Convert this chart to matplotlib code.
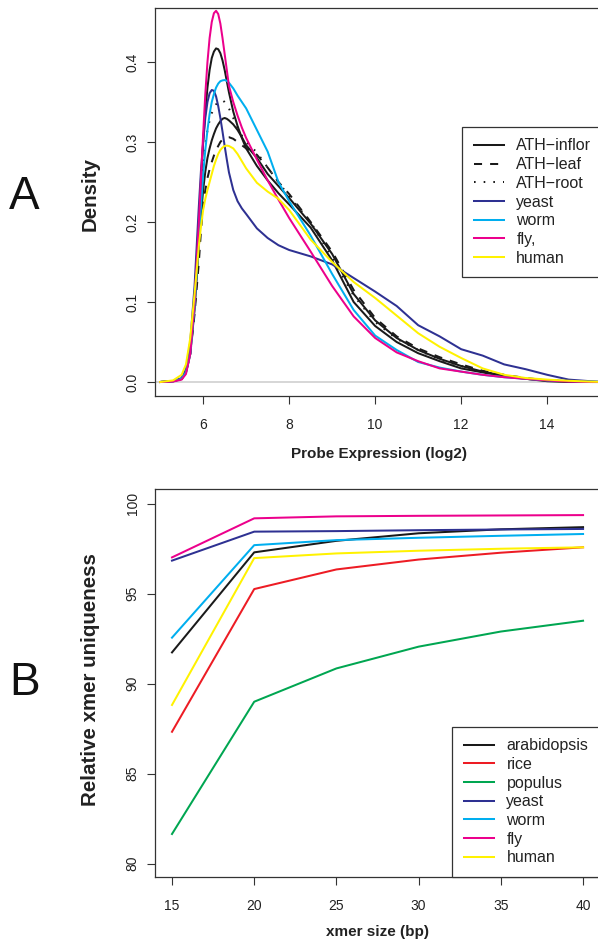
import matplotlib
matplotlib.use('Agg')
import matplotlib.pyplot as plt

# ---------------- Panel A data (density curves) ----------------
expr_x = [5.0, 5.3, 5.5, 5.6, 5.7, 5.8, 5.9, 5.95, 6.0, 6.05, 6.1, 6.15, 6.2, 6.25, 6.3, 6.35,
          6.4, 6.45, 6.5, 6.55, 6.6, 6.7, 6.8, 6.9, 7.0,
          7.25, 7.5, 7.75, 8.0, 8.5, 9.0, 9.5, 10.0, 10.5, 11.0, 11.5, 12.0, 12.5, 13.0,
          13.5, 14.0, 14.5, 15.0, 15.35]
dens_inflor = [0, 0.001, 0.004, 0.013, 0.04, 0.105, 0.20, 0.25, 0.30, 0.338, 0.368, 0.39, 0.405,
               0.413, 0.417, 0.416, 0.411, 0.402, 0.39, 0.376, 0.362, 0.338, 0.32, 0.305, 0.292,
               0.27, 0.252, 0.236, 0.222, 0.193, 0.152, 0.10, 0.07, 0.05,
               0.036, 0.026, 0.017, 0.012, 0.007, 0.004, 0.001, 0, 0, 0]
dens_inflor2 = [0, 0.001, 0.004, 0.012, 0.035, 0.09, 0.17, 0.21, 0.24, 0.263, 0.28, 0.292, 0.302,
                0.31, 0.317, 0.322, 0.326, 0.329, 0.33, 0.329, 0.327, 0.322, 0.315, 0.306, 0.296,
                0.28, 0.26, 0.245, 0.23, 0.198, 0.16, 0.11, 0.077, 0.055,
                0.04, 0.029, 0.02, 0.013, 0.008, 0.004, 0.002, 0.001, 0, 0]
dens_leaf = [0, 0.001, 0.004, 0.012, 0.035, 0.085, 0.15, 0.19, 0.22, 0.24, 0.255, 0.266, 0.275,
             0.283, 0.29, 0.295, 0.30, 0.303, 0.305, 0.306, 0.306, 0.304, 0.30, 0.296, 0.292,
             0.284, 0.268, 0.25, 0.235, 0.20, 0.163, 0.115, 0.08, 0.057,
             0.042, 0.031, 0.022, 0.014, 0.009, 0.005, 0.002, 0.001, 0, 0]
dens_root = [0, 0.001, 0.004, 0.013, 0.04, 0.10, 0.19, 0.235, 0.27, 0.296, 0.315, 0.327, 0.336,
             0.342, 0.347, 0.35, 0.352, 0.352, 0.35, 0.347, 0.342, 0.33, 0.318, 0.308, 0.30,
             0.287, 0.268, 0.25, 0.232, 0.20, 0.155, 0.108, 0.075, 0.054,
             0.04, 0.028, 0.02, 0.013, 0.008, 0.004, 0.002, 0.001, 0, 0]
dens_yeast = [0, 0.001, 0.005, 0.016, 0.05, 0.12, 0.22, 0.265, 0.30, 0.33, 0.35, 0.361, 0.365,
              0.364, 0.357, 0.345, 0.33, 0.313, 0.295, 0.278, 0.262, 0.24, 0.226, 0.217, 0.21,
              0.192, 0.18, 0.171, 0.165, 0.157, 0.147, 0.13, 0.113, 0.095,
              0.071, 0.057, 0.041, 0.033, 0.022, 0.016, 0.009, 0.003, 0.001, 0]
dens_worm = [0, 0.0008, 0.004, 0.012, 0.035, 0.095, 0.18, 0.22, 0.26, 0.29, 0.315, 0.335, 0.35,
             0.36, 0.368, 0.373, 0.376, 0.377, 0.3775, 0.3765, 0.374, 0.367, 0.358, 0.35, 0.342,
             0.315, 0.288, 0.25, 0.226, 0.183, 0.135, 0.09, 0.058, 0.04,
             0.025, 0.018, 0.013, 0.009, 0.006, 0.004, 0.002, 0.001, 0.0003, 0]
dens_fly = [0, 0.0005, 0.003, 0.01, 0.035, 0.10, 0.20, 0.255, 0.31, 0.36, 0.40, 0.43, 0.45,
            0.461, 0.464, 0.46, 0.448, 0.43, 0.41, 0.39, 0.37, 0.35, 0.333, 0.318, 0.305,
            0.278, 0.252, 0.228, 0.205, 0.163, 0.12, 0.082, 0.055, 0.037,
            0.026, 0.017, 0.013, 0.009, 0.006, 0.004, 0.002, 0.0005, 0, 0]
dens_human = [0, 0.002, 0.009, 0.022, 0.055, 0.11, 0.17, 0.195, 0.215, 0.229, 0.24, 0.25, 0.26,
              0.27, 0.278, 0.285, 0.29, 0.293, 0.295, 0.2955, 0.295, 0.292, 0.285, 0.276, 0.267,
              0.249, 0.238, 0.229, 0.215, 0.178, 0.15, 0.125, 0.105, 0.083,
              0.061, 0.044, 0.03, 0.017, 0.009, 0.005, 0.003, 0.0015, 0.0005, 0]

a_xticks = [6, 8, 10, 12, 14]
a_yticks = [0.0, 0.1, 0.2, 0.3, 0.4]

# ---------------- Panel B data ----------------
xmer_size = [15, 20, 25, 30, 35, 40]
u_arabidopsis = [91.74, 97.30, 97.94, 98.36, 98.58, 98.70]
u_rice = [87.33, 95.26, 96.35, 96.90, 97.28, 97.58]
u_populus = [81.65, 89.00, 90.85, 92.06, 92.90, 93.50]
u_yeast = [96.84, 98.45, 98.48, 98.53, 98.57, 98.60]
u_worm = [92.56, 97.70, 97.98, 98.11, 98.22, 98.32]
u_fly = [97.02, 99.19, 99.30, 99.33, 99.35, 99.37]
u_human = [88.82, 96.98, 97.24, 97.39, 97.50, 97.58]
b_yticks = [80, 85, 90, 95, 100]

C_BLACK = '#1a1a1a'
C_YEAST = '#2e3192'
C_WORM = '#00aeef'
C_FLY = '#ec008c'
C_HUMAN = '#fff200'
C_RICE = '#ed1c24'
C_POP = '#00a651'

TICKFONT = 'Liberation Sans'
LABFONT = 'Liberation Sans'

W, H = 598, 943
fig = plt.figure(figsize=(W / 100, H / 100), dpi=100)


def rect(l, t, r, b):
    return [l / W, 1 - b / H, (r - l) / W, (b - t) / H]


def style_axes(ax):
    for s in ['top', 'left', 'bottom', 'right']:
        ax.spines[s].set_color('#333333')
        ax.spines[s].set_linewidth(0.9)
    ax.tick_params(direction='out', length=6, width=0.8, colors='#333333',
                   labelsize=10, pad=9.5)
    ax.tick_params(axis='y', pad=5)
    for lab in ax.get_xticklabels() + ax.get_yticklabels():
        lab.set_fontfamily(TICKFONT)
        lab.set_color('#222222')
    for lab in ax.get_yticklabels():
        lab.set_rotation(90)
        lab.set_va('center')


LEG_KW = dict(frameon=True, fancybox=False, edgecolor='#333333', framealpha=1,
              borderaxespad=0, prop={'family': TICKFONT, 'size': 11.5}, handlelength=1.85,
              handletextpad=0.8, labelspacing=0.23, borderpad=0.73)

# ---------------- Panel A ----------------
ax1 = fig.add_axes(rect(155, 8, 603, 396))
ax1.axhline(0, color='#cfcfcf', lw=1.2, zorder=0)
lw = 1.45
ax1.plot(expr_x, dens_inflor, color=C_BLACK, lw=lw, label='ATH\u2212inflor')
ax1.plot(expr_x, dens_leaf, color=C_BLACK, lw=lw, ls=(0, (4, 4)), label='ATH\u2212leaf')
ax1.plot(expr_x, dens_root, color=C_BLACK, lw=lw, ls=(0, (0.8, 4)), label='ATH\u2212root')
ax1.plot(expr_x, dens_inflor2, color=C_BLACK, lw=lw, label='_nolegend_')
ax1.plot(expr_x, dens_yeast, color=C_YEAST, lw=lw, label='yeast')
ax1.plot(expr_x, dens_worm, color=C_WORM, lw=lw, label='worm')
ax1.plot(expr_x, dens_fly, color=C_FLY, lw=lw, label='fly,')
ax1.plot(expr_x, dens_human, color=C_HUMAN, lw=lw, label='human')
ax1.set_xlim(4.88, 4.88 + 448 / 43)
ax1.set_ylim(-0.0175, 0.4675)
ax1.set_xticks(a_xticks)
ax1.set_xticklabels([str(v) for v in a_xticks])
ax1.set_yticks(a_yticks)
ax1.set_yticklabels(['%.1f' % v for v in a_yticks])
style_axes(ax1)
leg1 = ax1.legend(loc='center right', bbox_to_anchor=(1.0, 0.5), **LEG_KW)
leg1.get_frame().set_linewidth(0.9)
for t in leg1.get_texts():
    t.set_color('#222222')

# ---------------- Panel B ----------------
ax2 = fig.add_axes(rect(155, 489, 600, 877))
ax2.plot(xmer_size, u_arabidopsis, color=C_BLACK, lw=lw, label='arabidopsis')
ax2.plot(xmer_size, u_rice, color=C_RICE, lw=lw, label='rice')
ax2.plot(xmer_size, u_populus, color=C_POP, lw=lw, label='populus')
ax2.plot(xmer_size, u_yeast, color=C_YEAST, lw=lw, label='yeast')
ax2.plot(xmer_size, u_worm, color=C_WORM, lw=lw, label='worm')
ax2.plot(xmer_size, u_fly, color=C_FLY, lw=lw, label='fly')
ax2.plot(xmer_size, u_human, color=C_HUMAN, lw=lw, label='human')
ax2.set_xlim(13.966, 41.03)
ax2.set_ylim(79.26, 100.82)
ax2.set_xticks(xmer_size)
ax2.set_xticklabels([str(v) for v in xmer_size])
ax2.set_yticks(b_yticks)
ax2.set_yticklabels([str(v) for v in b_yticks])
style_axes(ax2)
leg2 = ax2.legend(loc='lower right', bbox_to_anchor=(1.0, 0.0), **LEG_KW)
leg2.get_frame().set_linewidth(0.9)
for t in leg2.get_texts():
    t.set_color('#222222')

# ---------------- Labels ----------------
def ftext(x, y, s, **kw):
    fig.text(x / W, 1 - y / H, s, ha='center', va='center', **kw)


ftext(379, 454, 'Probe Expression (log2)', family=LABFONT, weight='bold', size=11,
      color='#222222')
ftext(378, 932, 'xmer size (bp)', family=LABFONT, weight='bold', size=11, color='#222222')
ftext(90, 194, 'Density', family=LABFONT, weight='bold', size=14.8, rotation=90,
      color='#222222')
ftext(90, 680, 'Relative xmer uniqueness', family=LABFONT, weight='bold', size=14.8,
      rotation=90, color='#222222')
ftext(24, 197, 'A', family=TICKFONT, size=33, color='#111111')
ftext(25, 683, 'B', family=TICKFONT, size=33, color='#111111')

fig.savefig('out.png', dpi=100)
